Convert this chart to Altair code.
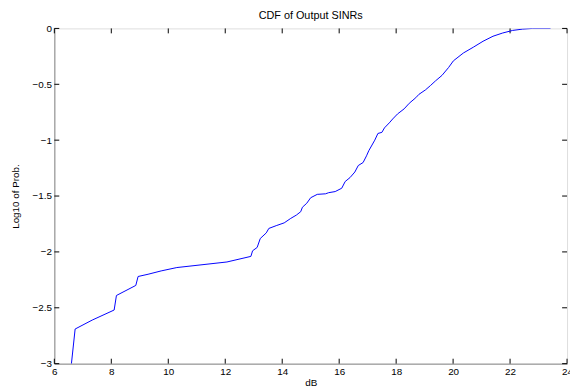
import altair as alt
import pandas as pd

# Curve values (x in dB, y = log10 of CDF probability)
sinr_db = [6.60, 6.73, 7.33, 8.10, 8.18, 8.86, 8.94, 9.29, 9.75, 10.30, 12.06, 12.90,
           12.96, 13.12, 13.23, 13.44, 13.53, 13.79, 14.07, 14.30, 14.50, 14.65, 14.71,
           14.86, 15.00, 15.23, 15.52, 15.63, 15.86, 16.09, 16.21, 16.38, 16.55, 16.67,
           16.84, 16.96, 17.04, 17.25, 17.36, 17.50, 17.59, 17.76, 17.88, 18.05, 18.28,
           18.46, 18.69, 18.80, 19.03, 19.21, 19.38, 19.61, 19.84, 20.01, 20.36, 20.71,
           21.05, 21.40, 21.74, 22.09, 22.44, 22.78, 23.42]
log_prob = [-3.0, -2.69, -2.61, -2.52, -2.39, -2.30, -2.22, -2.20, -2.17, -2.14, -2.09, -2.04,
            -1.99, -1.96, -1.88, -1.83, -1.79, -1.765, -1.74, -1.70, -1.67, -1.64, -1.60,
            -1.565, -1.515, -1.485, -1.48, -1.47, -1.46, -1.43, -1.37, -1.335, -1.285, -1.227,
            -1.20, -1.14, -1.094, -1.0, -0.94, -0.93, -0.89, -0.845, -0.81, -0.765, -0.72,
            -0.67, -0.62, -0.59, -0.55, -0.51, -0.47, -0.42, -0.35, -0.29, -0.22, -0.168,
            -0.115, -0.07, -0.041, -0.018, -0.006, 0.0, 0.0]

x_ticks = [6, 8, 10, 12, 14, 16, 18, 20, 22, 24]
y_ticks = [-3, -2.5, -2, -1.5, -1, -0.5, 0]

W, H = 520, 340
FONT = "Liberation Sans"

df = pd.DataFrame({"db": sinr_db, "lp": log_prob})
xt = pd.DataFrame({"t": x_ticks})
yt = pd.DataFrame({"t": y_ticks})

xscale = alt.Scale(domain=[6, 24], nice=False, zero=False)
yscale = alt.Scale(domain=[-3, 0], nice=False, zero=False)

line = alt.Chart(df).mark_line(color="#0000ff", strokeWidth=1, clip=True).encode(
    x=alt.X("db:Q", scale=xscale,
            axis=alt.Axis(values=x_ticks, title="dB", ticks=False, grid=False,
                          labelFlush=False, labelOverlap=False, labelPadding=3,
                          titlePadding=1, titleFontSize=10, titleFontWeight="normal")),
    y=alt.Y("lp:Q", scale=yscale,
            axis=alt.Axis(values=y_ticks, title="Log10 of Prob.", ticks=False, grid=False,
                          format="~g", labelPadding=3, labelOverlap=False,
                          titlePadding=12, titleFontSize=10, titleFontWeight="normal")),
)

tick_len = 5
bottom_ticks = alt.Chart(xt).mark_rule(color="black", strokeWidth=1).encode(
    x=alt.X("t:Q", scale=xscale), y=alt.value(H), y2=alt.value(H - tick_len))
top_ticks = alt.Chart(xt).mark_rule(color="black", strokeWidth=1).encode(
    x=alt.X("t:Q", scale=xscale), y=alt.value(0), y2=alt.value(tick_len))
left_ticks = alt.Chart(yt).mark_rule(color="black", strokeWidth=1).encode(
    y=alt.Y("t:Q", scale=yscale), x=alt.value(0), x2=alt.value(tick_len))
right_ticks = alt.Chart(yt).mark_rule(color="black", strokeWidth=1).encode(
    y=alt.Y("t:Q", scale=yscale), x=alt.value(W), x2=alt.value(W - tick_len))

chart = alt.layer(bottom_ticks, top_ticks, left_ticks, right_ticks, line).properties(
    width=W, height=H,
    title=alt.TitleParams("CDF of Output SINRs", fontSize=11, fontWeight="normal",
                          font=FONT, color="black", offset=3, anchor="middle"),
    autosize=alt.AutoSizeParams(type="none"),
    padding={"left": 47, "top": 18, "right": 3, "bottom": 24},
).configure_view(
    stroke="black", strokeWidth=1
).configure_axis(
    labelFont=FONT, titleFont=FONT, labelFontSize=11, labelColor="black",
    titleColor="black", domainColor="black", domainWidth=1
).configure(background="white")

chart.save("out.html", embed_options={"renderer": "svg", "actions": False})
